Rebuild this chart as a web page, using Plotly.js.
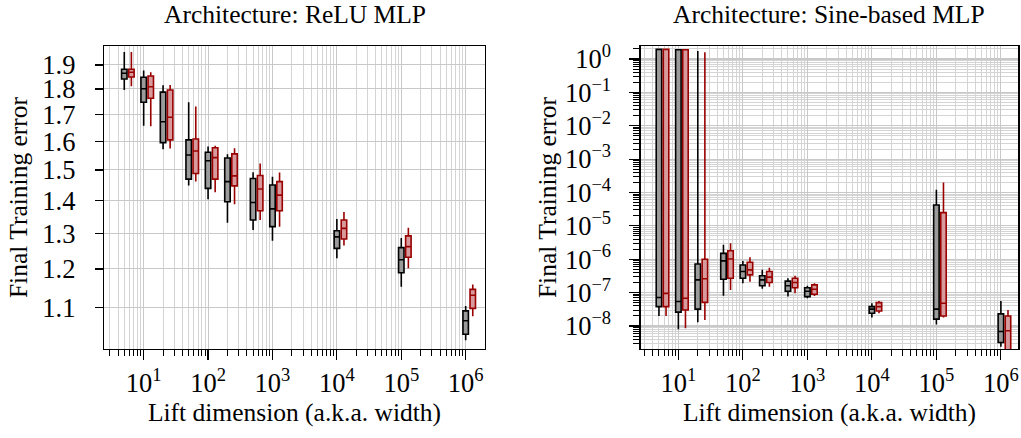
<!DOCTYPE html>
<html><head><meta charset="utf-8">
<script src="https://cdn.plot.ly/plotly-3.0.1.min.js"></script>
<style>html,body{margin:0;padding:0;background:#fff}#chart{width:1021px;height:438px}</style>
</head><body><div id="chart"></div>
<script>
// Lift dimensions (widths) at which the boxes are drawn
const widths = [5, 10, 20, 50, 100, 200, 500, 1000, 1e4, 1e5, 1e6];
const xTickVals = [1, 2, 3, 4, 5, 6];
const xTickText = ['10<sup>1</sup>','10<sup>2</sup>','10<sup>3</sup>','10<sup>4</sup>','10<sup>5</sup>','10<sup>6</sup>'];

// ReLU MLP – black series
const reluBlackLow = [1.796,1.657,1.571,1.448,1.404,1.332,1.310,1.279,1.229,1.153,1.022];
const reluBlackQ1  = [1.841,1.747,1.595,1.469,1.439,1.396,1.340,1.320,1.257,1.190,1.036];
const reluBlackMed = [1.865,1.801,1.672,1.551,1.531,1.461,1.394,1.374,1.290,1.225,1.068];
const reluBlackQ3  = [1.882,1.848,1.787,1.605,1.561,1.541,1.471,1.450,1.308,1.259,1.092];
const reluBlackHigh= [1.956,1.876,1.815,1.747,1.581,1.554,1.492,1.477,1.343,1.287,1.104];
// ReLU MLP – red series
const reluRedLow = [1.811,1.655,1.574,1.461,1.426,1.388,1.340,1.320,1.265,1.202,1.079];
const reluRedQ1  = [1.849,1.763,1.605,1.488,1.469,1.447,1.368,1.368,1.284,1.232,1.098];
const reluRedMed = [1.869,1.809,1.689,1.565,1.542,1.480,1.437,1.417,1.315,1.262,1.131];
const reluRedQ3  = [1.882,1.853,1.796,1.608,1.577,1.555,1.481,1.461,1.340,1.293,1.146];
const reluRedHigh= [1.956,1.869,1.816,1.730,1.584,1.575,1.522,1.491,1.364,1.317,1.159];

// Sine-based MLP – black series
const sineBlackLow = [2.0e-8,8e-9,1.3e-8,8.1e-8,1.9e-7,1.3e-7,7.6e-8,6.8e-8,1.8e-8,1.1e-8,2.4e-9];
const sineBlackQ1  = [3.8e-8,2.6e-8,3.2e-8,2.5e-7,2.7e-7,1.6e-7,1.1e-7,7.6e-8,2.4e-8,1.6e-8,3.2e-9];
const sineBlackMed = [7.1e-8,5.4e-8,2.4e-7,8.9e-7,4.3e-7,2.4e-7,1.6e-7,1.1e-7,3.2e-8,3.2e-8,6.8e-9];
const sineBlackQ3  = [1.95,1.9,7.2e-7,1.5e-6,6.7e-7,3.2e-7,2.2e-7,1.4e-7,3.8e-8,4.2e-5,2.3e-8];
const sineBlackHigh= [1.95,1.9,1.75,2.7e-6,8.9e-7,4.8e-7,2.7e-7,1.6e-7,4.8e-8,1.2e-4,5.6e-8];
// Sine-based MLP – red series
const sineRedLow = [2.0e-8,8.5e-9,1.5e-8,1.2e-7,2.1e-7,1.5e-7,9.6e-8,7.9e-8,2.4e-8,1.8e-8,1.0e-9];
const sineRedQ1  = [3.8e-8,3.0e-8,5.1e-8,2.7e-7,3.4e-7,2.0e-7,1.4e-7,8.9e-8,2.8e-8,2.0e-8,1.6e-9];
const sineRedMed = [9.5e-8,6.8e-8,2.6e-7,1.02e-6,4.8e-7,2.9e-7,2.0e-7,1.26e-7,3.8e-8,4.8e-8,7.2e-9];
const sineRedQ3  = [1.95,1.9,1.0e-6,1.8e-6,8.1e-7,4.3e-7,2.7e-7,1.7e-7,5.0e-8,2.5e-5,2.0e-8];
const sineRedHigh= [1.95,1.9,1.6,3.0e-6,1.15e-6,5.6e-7,3.2e-7,1.9e-7,5.6e-8,2.0e-4,3.0e-8];

const reluYTickVals = [1.1,1.2,1.3,1.4,1.5,1.6,1.7,1.8,1.9];
const sineYTickVals = [1,1e-1,1e-2,1e-3,1e-4,1e-5,1e-6,1e-7,1e-8];
const sineYTickText = ['10<sup>0</sup>','10<sup>−1</sup>','10<sup>−2</sup>','10<sup>−3</sup>','10<sup>−4</sup>','10<sup>−5</sup>','10<sup>−6</sup>','10<sup>−7</sup>','10<sup>−8</sup>'];

// ---------- styling / layout ----------
const FONT = 'Liberation Serif, "Times New Roman", serif';
const FS = 25.5;
const BLACK_LINE = '#000000', BLACK_FILL = 'rgb(155,155,155)';
const RED_LINE = '#990000', RED_FILL = 'rgb(215,155,158)';
const BOX_W = 0.085;       // box width in decades
const RED_SHIFT = 0.11;    // red boxes drawn slightly to the right (decades)

const logPos = widths.map(w => Math.log10(w));
const redPos = logPos.map(p => p + RED_SHIFT);

function box(pos, lo, q1, med, q3, hi, line, fill, xa, ya) {
  return {type:'box', x:pos, lowerfence:lo, q1:q1, median:med, q3:q3, upperfence:hi,
    xaxis:xa, yaxis:ya, width:BOX_W, whiskerwidth:0, boxpoints:false,
    line:{color:line, width:1.6}, fillcolor:fill, hoverinfo:'skip', showlegend:false};
}

const traces = [
  box(logPos, reluBlackLow, reluBlackQ1, reluBlackMed, reluBlackQ3, reluBlackHigh, BLACK_LINE, BLACK_FILL, 'x', 'y'),
  box(redPos, reluRedLow, reluRedQ1, reluRedMed, reluRedQ3, reluRedHigh, RED_LINE, RED_FILL, 'x', 'y'),
  box(logPos, sineBlackLow, sineBlackQ1, sineBlackMed, sineBlackQ3, sineBlackHigh, BLACK_LINE, BLACK_FILL, 'x2', 'y2'),
  box(redPos, sineRedLow, sineRedQ1, sineRedMed, sineRedQ3, sineRedHigh, RED_LINE, RED_FILL, 'x2', 'y2')
];

const minorX = [];
for (let n = 0; n <= 6; n++) for (let k = 2; k <= 9; k++) minorX.push(Math.log10(k * Math.pow(10, n)));
const minorY = [];
for (let n = -9; n <= 0; n++) for (let k = 2; k <= 9; k++) minorY.push(k * Math.pow(10, n));

const GRID = 'rgb(200,200,200)', MINOR_GRID = 'rgb(212,212,212)';
const XTICKFONT = {family:FONT, size:26.5, color:'black'};
const YTICKFONT = {family:FONT, size:26.5, color:'black'};
const TITLEFONT = {family:FONT, size:FS, color:'black'};

function xAxis(domain, range, anchor) {
  return {domain:domain, range:range, anchor:anchor, type:'linear',
    tickmode:'array', tickvals:xTickVals, ticktext:xTickText,
    ticks:'outside', ticklen:10, tickwidth:1.2, tickcolor:'black',
    showline:true, mirror:true, linecolor:'black', linewidth:1.3,
    showgrid:true, gridcolor:GRID, gridwidth:1, zeroline:false,
    minor:{tickmode:'array', tickvals:minorX, ticks:'outside', ticklen:6, tickwidth:1, tickcolor:'black',
      showgrid:true, gridcolor:MINOR_GRID, gridwidth:1},
    tickfont:XTICKFONT,
    title:{text:'Lift dimension (a.k.a. width)', font:TITLEFONT, standoff:5}};
}

const layout = {
  width:1021, height:438, margin:{l:0, r:0, t:0, b:0},
  paper_bgcolor:'white', plot_bgcolor:'white', showlegend:false,
  boxmode:'overlay', boxgap:0, boxgroupgap:0,
  font:{family:FONT, color:'black', size:FS},
  xaxis: xAxis([0.10186, 0.47502], [0.384, 6.30], 'y'),
  xaxis2: xAxis([0.62752, 0.99736], [0.416, 6.27], 'y2'),
  yaxis: {domain:[0.2032, 0.895], anchor:'x', type:'log', range:[0.0009, 0.2973],
    tickmode:'array', tickvals:reluYTickVals, ticktext:reluYTickVals.map(v => v.toFixed(1)),
    ticks:'outside', ticklen:8, tickwidth:1.2, tickcolor:'black', ticklabelstandoff:14,
    showline:true, mirror:true, linecolor:'black', linewidth:1.3,
    showgrid:true, gridcolor:GRID, gridwidth:1, zeroline:false, tickfont:YTICKFONT,
    title:{text:'Final Training error', font:TITLEFONT, standoff:7}},
  yaxis2: {domain:[0.2032, 0.895], anchor:'x2', type:'log', range:[-8.69, 0.39],
    tickmode:'array', tickvals:sineYTickVals, ticktext:sineYTickText,
    ticks:'outside', ticklen:10, tickwidth:1.2, tickcolor:'black', ticklabelstandoff:13,
    showline:true, mirror:true, linecolor:'black', linewidth:1.3,
    showgrid:true, gridcolor:GRID, gridwidth:1.2, zeroline:false, tickfont:YTICKFONT,
    minor:{tickmode:'array', tickvals:minorY, ticks:'outside', ticklen:6, tickwidth:1, tickcolor:'black',
      showgrid:true, gridcolor:MINOR_GRID, gridwidth:1},
    title:{text:'Final Training error', font:TITLEFONT, standoff:1}},
  annotations:[
    {text:'Architecture: ReLU MLP', xref:'paper', yref:'paper', x:0.2885, y:1 - 14/438,
      xanchor:'center', yanchor:'middle', showarrow:false, font:{family:FONT, size:FS, color:'black'}},
    {text:'Architecture: Sine-based MLP', xref:'paper', yref:'paper', x:0.8115, y:1 - 14/438,
      xanchor:'center', yanchor:'middle', showarrow:false, font:{family:FONT, size:FS, color:'black'}}
  ]
};

Plotly.newPlot('chart', traces, layout, {staticPlot:true, displayModeBar:false});
</script>
</body></html>
